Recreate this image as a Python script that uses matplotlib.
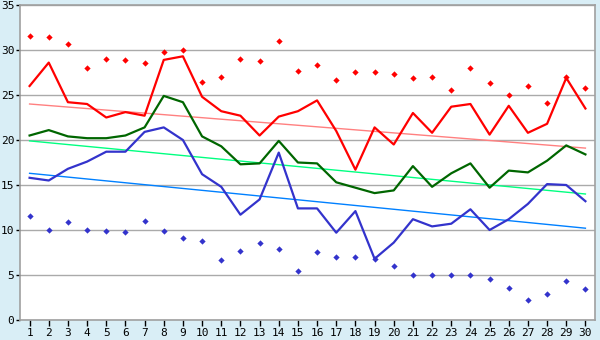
import numpy as np
import matplotlib.pyplot as plt

days = list(range(1, 31))

red_line = [26.0, 28.6, 24.2, 24.0, 22.5, 23.1, 22.7, 28.9, 29.3, 24.8,
            23.2, 22.7, 20.5, 22.6, 23.2, 24.4, 21.0, 16.7, 21.4, 19.5,
            23.0, 20.8, 23.7, 24.0, 20.6, 23.8, 20.8, 21.8, 26.9, 23.5]
red_points = [31.6, 31.4, 30.7, 28.0, 29.0, 28.9, 28.6, 29.8, 30.0, 26.5,
              27.0, 29.0, 28.8, 31.0, 27.7, 28.3, 26.7, 27.6, 27.6, 27.3,
              26.9, 27.0, 25.6, 28.0, 26.3, 25.0, 26.0, 24.1, 27.0, 25.8]
green_line = [20.5, 21.1, 20.4, 20.2, 20.2, 20.5, 21.4, 24.9, 24.2, 20.4,
              19.3, 17.3, 17.4, 19.9, 17.5, 17.4, 15.3, 14.7, 14.1, 14.4,
              17.1, 14.8, 16.3, 17.4, 14.7, 16.6, 16.4, 17.7, 19.4, 18.4]
blue_line = [15.8, 15.5, 16.8, 17.6, 18.7, 18.7, 20.9, 21.4, 20.0, 16.2,
             14.8, 11.7, 13.4, 18.6, 12.4, 12.4, 9.7, 12.1, 6.8, 8.6,
             11.2, 10.4, 10.7, 12.3, 10.0, 11.2, 12.9, 15.1, 15.0, 13.2]
blue_points = [11.6, 10.0, 10.9, 10.0, 9.9, 9.8, 11.0, 9.9, 9.1, 8.8,
               6.7, 7.7, 8.6, 7.9, 5.4, 7.6, 7.0, 7.0, 6.8, 6.0,
               5.0, 5.0, 5.0, 5.0, 4.6, 3.6, 2.2, 2.9, 4.3, 3.4]

# trend lines: value at day 1 and day 30
trend_days = [1, 30]
red_trend = [24.0, 19.1]
green_trend = [19.9, 14.0]
blue_trend = [16.3, 10.2]

bg = '#d9eef6'
fig = plt.figure(figsize=(6, 3.4), dpi=100, facecolor=bg)
ax = fig.add_axes([20 / 600, 20 / 340, 575 / 600, 315 / 340])
ax.set_facecolor('white')

ax.plot(trend_days, red_trend, color='#ff8080', lw=1)
ax.plot(trend_days, green_trend, color='#00ff80', lw=1)
ax.plot(trend_days, blue_trend, color='#0080ff', lw=1)

ax.plot(days, red_line, color='#ff0000', lw=1.6)
ax.plot(days, green_line, color='#006600', lw=1.6)
ax.plot(days, blue_line, color='#3333cc', lw=1.6)

ax.plot(days, red_points, 'D', color='#ff0000', ms=3.2, mec='none')
ax.plot(days, blue_points, 'D', color='#3333cc', ms=3.2, mec='none')

ax.set_xlim(0.5, 30.5)
ax.set_ylim(0, 35)
ax.set_xticks(days)
ax.set_yticks(range(0, 36, 5))
ax.yaxis.grid(True, color='#aaaaaa', lw=1)
ax.set_axisbelow(True)
for s in ax.spines.values():
    s.set_color('#a0a0a0')
    s.set_linewidth(1.2)
ax.tick_params(length=4, width=1, color='black', labelsize=8, pad=2)
ax.tick_params(axis='y', length=3, pad=1)
for lab in ax.get_xticklabels() + ax.get_yticklabels():
    lab.set_family('DejaVu Sans Mono')

fig.savefig('out.png', dpi=100, facecolor=bg)
